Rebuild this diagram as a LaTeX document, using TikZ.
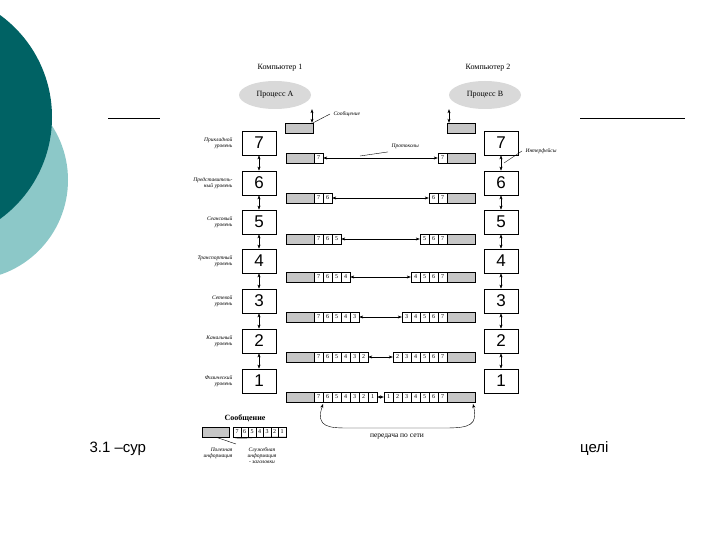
\documentclass[tikz,border=0pt]{standalone}
\usepackage{fontspec}
\setmainfont{Liberation Serif}
\newfontfamily\sansf{Liberation Sans}
\usetikzlibrary{positioning,arrows.meta,shapes.geometric}
\definecolor{darkteal}{RGB}{0,98,100}
\definecolor{lightteal}{RGB}{140,200,200}
\tikzset{
  layer/.style={draw,thick,minimum width=34pt,minimum height=24pt,inner sep=0pt,font=\sansf\fontsize{17}{17}\selectfont},
  cell/.style={draw,minimum width=9pt,minimum height=10pt,inner sep=0pt,font=\fontsize{6}{6}\selectfont},
  data/.style={draw,fill=gray!45,minimum width=28pt,minimum height=10pt,inner sep=0pt},
  lbl/.style={font=\itshape\fontsize{5.5}{6}\selectfont,align=right,anchor=east},
  link/.style={{Stealth[length=4pt]}-{Stealth[length=4pt]}},
  proc/.style={ellipse,fill=gray!30,minimum width=72pt,minimum height=28pt,font=\fontsize{8}{8}\selectfont}
}
\begin{document}
\begin{tikzpicture}[x=1pt,y=-1pt]
    \useasboundingbox (0,0) rectangle (720,540);
    \fill[white] (0,0) rectangle (720,540);

    % slide decoration
    \fill[lightteal] (-32,180) circle (100);
    \fill[darkteal] (-74,117) circle (126);
    \draw[thin] (108,118) -- (160,118);
    \draw[thin] (580,118) -- (685,118);

    % computers and processes
    \node[font=\fontsize{8}{8}\selectfont] (comp1) at (280,68) {Компьютер 1};
    \node[font=\fontsize{8}{8}\selectfont] (comp2) at (488,68) {Компьютер 2};
    \node[proc] (procA) at (275,95) {Процесс A};
    \node[proc] (procB) at (485,95) {Процесс B};
    \node[data] (msgA) at (299,128) {};
    \node[data] (msgB) at (461,128) {};
    \draw[link] (procA.south -| 312,0) -- (msgA.north -| 312,0);
    \draw[link] (procB.south -| 449,0) -- (msgB.north -| 449,0);
    \node[lbl,anchor=west] (msglbl) at (330,114) {Сообщение};
    \draw[thin] (msglbl.west) -- (msgA.north east);

    % layers
    \foreach \n/\y/\txt in {7/143/Прикладной\\уровень,6/183/Представитель-\\ный уровень,5/222/Сеансовый\\уровень,4/261/Транспортный\\уровень,3/301/Сетевой\\уровень,2/341/Канальный\\уровень,1/381/Физический\\уровень}{
      \node[layer] (L\n) at (259,\y) {\n};
      \node[layer] (R\n) at (501,\y) {\n};
      \node[lbl] (lbl\n) at (236,\y) {\txt};
    }
    \foreach \a/\b in {7/6,6/5,5/4,4/3,3/2,2/1}{
      \draw[link] (L\a) -- (L\b);
      \draw[link] (R\a) -- (R\b);
    }

    % packets
    \foreach \n/\y in {7/158,6/198,5/239,4/277,3/317,2/357,1/397}{
      \node[data] (dl\n) at (300,\y) {};
      \node[data] (dr\n) at (461,\y) {};
      \foreach \k in {7,...,\n}{
        \pgfmathsetmacro{\xl}{314+(7-\k)*9+4.5}
        \pgfmathsetmacro{\xr}{447-(7-\k)*9-4.5}
        \node[cell] (cl\n\k) at (\xl,\y) {\k};
        \node[cell] (cr\n\k) at (\xr,\y) {\k};
      }
      \draw[link] (cl\n\n.east) -- (cr\n\n.west);
    }
    \node[lbl,anchor=west] (protlbl) at (388,146) {Протоколы};
    \draw[thin] (protlbl.south west) -- (360,156);
    \node[lbl,anchor=west] (intlbl) at (522,151) {Интерфейсы};
    \draw[thin] (intlbl.west) -- (504,163);

    % transfer over network
    \coordinate (netl) at (323,404);
    \coordinate (netr) at (473,404);
    \draw[link] (netl) .. controls (315,428) and (330,428) .. (350,428) -- (445,428) .. controls (470,428) and (478,425) .. (netr);
    \node[font=\fontsize{7.5}{8}\selectfont] (netlbl) at (397,437) {передача по сети};

    % legend
    \node[font=\bfseries\fontsize{8}{8}\selectfont] (leglbl) at (245,418) {Сообщение};
    \node[data,minimum width=27pt] (legd) at (216,432) {};
    \foreach \k [count=\i] in {7,6,5,4,3,2,1}{
      \node[cell,minimum width=7.5pt] (legc\k) at (229.5+\i*7.5,432) {\k};
    }
    \node[lbl,anchor=north] (legl1) at (218,444) {Полезная\\информация};
    \node[lbl,anchor=north,align=center] (legl2) at (262,444) {Служебная\\информация\\- заголовки};
    \draw[thin] (legl1.north east) -- (legd.south);
    \draw[thin] (legc7.south west) .. controls (237,440) and (262,436) .. (legc1.south east);

    % caption
    \node[font=\sansf\fontsize{15}{15}\selectfont,anchor=west] (cap1) at (86,449) {3.1 –сур};
    \node[font=\sansf\fontsize{15}{15}\selectfont,anchor=east] (cap2) at (612,449) {целі};
\end{tikzpicture}
\end{document}
